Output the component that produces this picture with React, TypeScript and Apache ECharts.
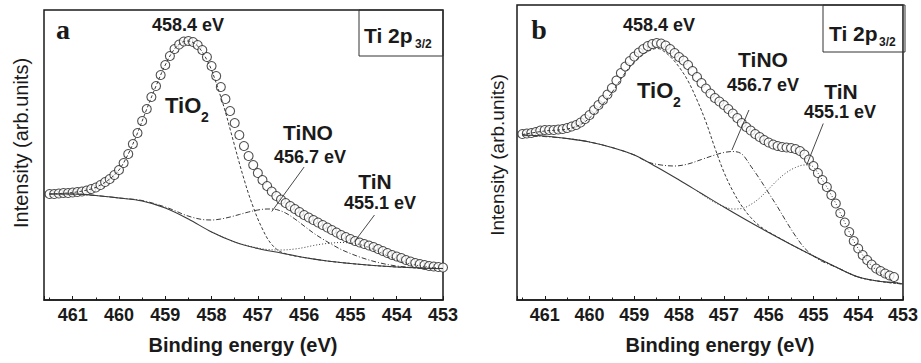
import React, { useEffect, useRef } from "react";
import * as echarts from "echarts";

// ---------- Panel a ----------
const ENERGY_A = [
  461.5, 461.4, 461.3, 461.2, 461.1, 461.0, 460.9, 460.8, 460.7, 460.6,
  460.5, 460.4, 460.3, 460.2, 460.1, 460.0, 459.9, 459.8, 459.7, 459.6,
  459.5, 459.4, 459.3, 459.2, 459.1, 459.0, 458.9, 458.8, 458.7, 458.6,
  458.5, 458.4, 458.3, 458.2, 458.1, 458.0, 457.9, 457.8, 457.7, 457.6,
  457.5, 457.4, 457.3, 457.2, 457.1, 457.0, 456.9, 456.8, 456.7, 456.6,
  456.5, 456.4, 456.3, 456.2, 456.1, 456.0, 455.9, 455.8, 455.7, 455.6,
  455.5, 455.4, 455.3, 455.2, 455.1, 455.0, 454.9, 454.8, 454.7, 454.6,
  454.5, 454.4, 454.3, 454.2, 454.1, 454.0, 453.9, 453.8, 453.7, 453.6,
  453.5, 453.4, 453.3, 453.2, 453.1, 453.0,
];
const INTENSITY_A = [
  106, 106, 106.5, 107, 107, 107.5, 108, 108.5, 109.5, 111,
  112.5, 115, 118, 121, 125, 130, 137, 146, 156, 167,
  179, 191, 203, 214, 225, 235, 244, 251, 255.5, 258.5,
  259, 258, 255, 250, 243, 234, 224, 213, 201, 189,
  177, 165, 154, 144, 135, 127, 120, 114, 108.5, 104,
  100.5, 97, 94, 91, 88, 85, 82.5, 80, 77.5, 75,
  72.5, 70, 67.5, 65, 63, 61, 59, 57.5, 56, 54.5,
  53, 51, 49, 47, 45, 43.5, 42, 40, 38.5, 37,
  36, 35, 34, 33.5, 33, 32.5,
];
const BACKGROUND_A = [
  [461.5, 106], [461.0, 106], [460.5, 104.5], [460.0, 102], [459.5, 99], [459.0, 92],
  [458.5, 81], [458.0, 68], [457.5, 58], [457.0, 51.5], [456.5, 47], [456.0, 42.5],
  [455.5, 39], [455.0, 36.5], [454.5, 34.5], [454.0, 33], [453.5, 32], [453.0, 31.5],
];
const TIO2_A = [
  [461.5, 106], [461.0, 107.5], [460.6, 111], [460.4, 115], [460.2, 121], [460.0, 130],
  [459.8, 146], [459.6, 167], [459.4, 191], [459.2, 214], [459.0, 235], [458.8, 251],
  [458.6, 258.5], [458.5, 259], [458.4, 257.5], [458.3, 254], [458.2, 248], [458.1, 240],
  [458.0, 230], [457.9, 217], [457.8, 203], [457.7, 188], [457.6, 171], [457.5, 154],
  [457.4, 137], [457.3, 121], [457.2, 106], [457.1, 93], [457.0, 81], [456.9, 71],
  [456.8, 62], [456.7, 55.5], [456.6, 51], [456.5, 48], [456.3, 45], [456.0, 42.5],
  [455.5, 39], [455.0, 36.5], [454.5, 34.5], [454.0, 33], [453.5, 32], [453.0, 31.5],
];
const TINO_A = [
  [461.5, 106], [461.0, 106], [460.5, 104.5], [460.0, 102], [459.5, 99.5], [459.0, 93],
  [458.8, 89.5], [458.6, 85.5], [458.4, 82.5], [458.2, 80.5], [458.0, 80], [457.8, 81],
  [457.6, 83], [457.4, 85.5], [457.2, 88], [457.0, 90], [456.8, 91], [456.7, 91],
  [456.6, 90.5], [456.4, 87], [456.2, 81], [456.0, 74], [455.8, 67], [455.6, 61],
  [455.4, 55.5], [455.2, 50.5], [455.0, 46.5], [454.8, 43], [454.6, 40], [454.4, 37.5],
  [454.2, 35.5], [454.0, 34], [453.5, 32], [453.0, 31.5],
];
const TIN_A = [
  [458.0, 68], [457.5, 58], [457.2, 54], [457.0, 52], [456.8, 50.5], [456.5, 50],
  [456.2, 51], [456.0, 52.5], [455.8, 54.5], [455.6, 56], [455.4, 57], [455.2, 57.5],
  [455.0, 57], [454.8, 55.5], [454.6, 52.5], [454.4, 48.5], [454.2, 44], [454.0, 40],
  [453.8, 37], [453.6, 35], [453.4, 33.5], [453.0, 31.5],
];
const LEADER_A_TINO = [[456.0, 133], [456.7, 88.5]];
const LEADER_A_TIN = [[454.48, 85], [454.91, 58.5]];

// ---------- Panel b ----------
const ENERGY_B = [
  461.5, 461.4, 461.3, 461.2, 461.1, 461.0, 460.9, 460.8, 460.7, 460.6,
  460.5, 460.4, 460.3, 460.2, 460.1, 460.0, 459.9, 459.8, 459.7, 459.6,
  459.5, 459.4, 459.3, 459.2, 459.1, 459.0, 458.9, 458.8, 458.7, 458.6,
  458.5, 458.4, 458.3, 458.2, 458.1, 458.0, 457.9, 457.8, 457.7, 457.6,
  457.5, 457.4, 457.3, 457.2, 457.1, 457.0, 456.9, 456.8, 456.7, 456.6,
  456.5, 456.4, 456.3, 456.2, 456.1, 456.0, 455.9, 455.8, 455.7, 455.6,
  455.5, 455.4, 455.3, 455.2, 455.1, 455.0, 454.9, 454.8, 454.7, 454.6,
  454.5, 454.4, 454.3, 454.2, 454.1, 454.0, 453.9, 453.8, 453.7, 453.6,
  453.5, 453.4, 453.3, 453.2,
];
const INTENSITY_B = [
  166, 166.5, 167, 168, 169.5, 170, 170, 170, 170.5, 171,
  172, 173.5, 175, 177.5, 181, 185, 190, 195, 200, 205.5,
  212, 219.5, 227, 233.5, 239, 243.5, 247.5, 251, 254, 256,
  257, 256.5, 254.5, 251, 247, 243, 239.5, 235, 229, 223,
  217, 211.5, 206.5, 202, 198.5, 195, 191, 186.5, 182, 177,
  173, 169.5, 166, 163, 160, 157.5, 155.5, 154, 153, 152.5,
  152, 151, 149, 145.5, 140.5, 134, 127, 120, 113, 105,
  96.5, 87, 77.5, 68, 59, 51.5, 45, 40, 35.5, 31.5,
  29, 26.5, 24.5, 23,
];
const BACKGROUND_B = [
  [461.5, 165], [461.0, 164], [460.5, 161.5], [460.0, 158], [459.5, 152.5], [459.0, 145],
  [458.5, 133], [458.0, 120], [457.5, 106.5], [457.0, 93], [456.5, 80], [456.0, 67.5],
  [455.5, 55.5], [455.0, 44], [454.5, 33], [454.0, 23], [453.5, 18.5], [453.2, 17.5], [453.0, 16],
];
const TIO2_B = [
  [461.5, 165.5], [461.0, 169], [460.5, 171], [460.2, 175.5], [460.0, 182], [459.8, 191],
  [459.6, 201.5], [459.4, 214], [459.2, 227.5], [459.0, 238], [458.8, 246], [458.6, 250.5],
  [458.5, 251.5], [458.4, 250.5], [458.2, 243.5], [458.0, 233], [457.8, 219], [457.6, 200],
  [457.4, 178], [457.2, 152], [457.0, 128], [456.8, 109], [456.6, 94], [456.4, 82.5],
  [456.2, 74], [456.0, 68], [455.8, 63], [455.5, 55.5], [455.0, 44], [454.5, 33],
  [454.0, 23], [453.5, 18.5], [453.0, 16],
];
const TINO_B = [
  [461.5, 165], [460.5, 161.5], [460.0, 158], [459.5, 152.5], [459.0, 145], [458.7, 138],
  [458.4, 135], [458.1, 134], [457.8, 136], [457.5, 140.5], [457.2, 145], [457.0, 147.5],
  [456.8, 148.5], [456.6, 146], [456.4, 134], [456.2, 121], [456.0, 107], [455.8, 93],
  [455.6, 78], [455.4, 64], [455.2, 52], [455.0, 44], [454.8, 38.5], [454.5, 33],
  [454.0, 23], [453.5, 18.5], [453.0, 16],
];
const TIN_B = [
  [457.6, 109], [457.4, 103], [457.2, 97.5], [457.0, 93.5], [456.8, 91], [456.6, 91.5],
  [456.4, 95.5], [456.2, 102], [456.0, 111], [455.8, 120], [455.6, 127.5], [455.4, 132.5],
  [455.2, 135], [455.1, 135], [455.0, 133], [454.9, 127], [454.8, 120], [454.7, 113],
  [454.6, 105], [454.5, 96.5], [454.4, 87], [454.3, 77.5], [454.2, 68], [454.1, 59],
  [454.0, 51.5], [453.8, 39], [453.6, 30], [453.4, 23], [453.2, 18.5], [453.0, 16],
];
const LEADER_B_TINO = [[456.44, 190], [456.82, 150]];
const LEADER_B_TIN = [[454.78, 176.5], [455.15, 135]];

const X_MIN = 453;
const X_MAX = 461.62;
const X_NAME = "Binding energy (eV)";
const Y_NAME = "Intensity (arb.units)";

const SANS = "'Liberation Sans', Arial, Helvetica, sans-serif";
const SERIF = "'Liberation Serif', 'Times New Roman', serif";
const INK = "#1a1a1a";

function zip(xs: number[], ys: number[]) {
  return xs.map((x, i) => [x, ys[i]]);
}

function xAxisFor(gridIndex: number) {
  return {
    type: "value",
    gridIndex,
    min: X_MIN,
    max: X_MAX,
    interval: 1,
    inverse: true,
    axisLine: { show: true, onZero: false, lineStyle: { color: INK, width: 1.5 } },
    axisTick: { show: true, inside: true, length: 4, lineStyle: { color: INK, width: 1 } },
    minorTick: { show: true, splitNumber: 2, length: 2.5, lineStyle: { color: INK, width: 1 } },
    splitLine: { show: false },
    minorSplitLine: { show: false },
    axisLabel: {
      show: true,
      margin: 6,
      color: INK,
      fontFamily: SANS,
      fontWeight: "bold",
      fontSize: 18,
      formatter: (v: number) => (Math.abs(v - Math.round(v)) < 1e-6 ? String(Math.round(v)) : ""),
    },
  };
}

function yAxisFor(gridIndex: number, max: number) {
  return { type: "value", gridIndex, min: 0, max, show: false };
}

function comp(name: string, data: number[][], idx: number, type: any, width = 1) {
  return {
    name,
    type: "line",
    xAxisIndex: idx,
    yAxisIndex: idx,
    data,
    smooth: 0.35,
    symbol: "none",
    z: 3,
    lineStyle: { color: "#3a3a3a", width, type },
  };
}

function scatter(name: string, data: number[][], idx: number) {
  return {
    name,
    type: "scatter",
    xAxisIndex: idx,
    yAxisIndex: idx,
    data,
    clip: false,
    symbol: "circle",
    symbolSize: 9,
    z: 2,
    itemStyle: { color: "#ffffff", borderColor: "#222", borderWidth: 1.1 },
  };
}

function leader(data: number[][], idx: number) {
  return {
    type: "line",
    xAxisIndex: idx,
    yAxisIndex: idx,
    data,
    symbol: "none",
    z: 4,
    lineStyle: { color: "#333", width: 0.9 },
  };
}

function txt(text: string, x: number, y: number, size: number, align = "center", font = SANS, weight = "bold") {
  return {
    type: "text",
    x,
    y,
    z: 10,
    style: {
      text,
      fill: INK,
      fontFamily: font,
      fontWeight: weight,
      fontSize: size,
      align,
      verticalAlign: "middle",
    },
  };
}

export default function App() {
  const ref = useRef<HTMLDivElement>(null);
  useEffect(() => {
    if (!ref.current) return;
    const chart = echarts.init(ref.current, null, { renderer: "svg" });
    const option: any = {
      animation: false,
      backgroundColor: "#ffffff",
      grid: [
        { left: 44, top: 10, width: 399, height: 290, show: true, borderColor: INK, borderWidth: 1.5, backgroundColor: "transparent" },
        { left: 517, top: 5, width: 388, height: 295, show: true, borderColor: INK, borderWidth: 1.5, backgroundColor: "transparent" },
      ],
      xAxis: [xAxisFor(0), xAxisFor(1)],
      yAxis: [yAxisFor(0, 290), yAxisFor(1, 295)],
      series: [
        scatter("Data a", zip(ENERGY_A, INTENSITY_A), 0),
        comp("Background a", BACKGROUND_A, 0, "solid", 1.1),
        comp("TiO2 a", TIO2_A, 0, [3, 2]),
        comp("TiNO a", TINO_A, 0, [5, 2, 1, 2]),
        comp("TiN a", TIN_A, 0, [1, 2]),
        leader(LEADER_A_TINO, 0),
        leader(LEADER_A_TIN, 0),
        scatter("Data b", zip(ENERGY_B, INTENSITY_B), 1),
        comp("Background b", BACKGROUND_B, 1, "solid", 1.1),
        comp("TiO2 b", TIO2_B, 1, [3, 2]),
        comp("TiNO b", TINO_B, 1, [5, 2, 1, 2]),
        comp("TiN b", TIN_B, 1, [1, 2]),
        leader(LEADER_B_TINO, 1),
        leader(LEADER_B_TIN, 1),
      ],
      graphic: [
        // panel a
        txt("a", 63, 29, 28, "center", SERIF),
        txt("458.4 eV", 188, 24.5, 18),
        txt("TiO", 165, 105, 22, "left"),
        txt("2", 201, 116.5, 14, "left"),
        txt("TiNO", 308, 132.5, 21),
        txt("456.7 eV", 310, 156.5, 18),
        txt("TiN", 375, 181.5, 21),
        txt("455.1 eV", 380, 203, 18),
        { type: "rect", z: 10, shape: { x: 359, y: 10, width: 84, height: 46 }, style: { fill: "none", stroke: "#333", lineWidth: 1 } },
        txt("Ti 2p", 364, 35, 21, "left"),
        txt("3/2", 415, 44, 12, "left"),
        txt(X_NAME, 243, 345, 20),
        { ...txt(Y_NAME, 21, 143, 20, "center", SANS, "normal"), rotation: Math.PI / 2 },
        // panel b
        txt("b", 539, 29, 28, "center", SERIF),
        txt("458.4 eV", 659, 24.5, 18),
        txt("TiO", 637, 90, 22, "left"),
        txt("2", 673, 101.5, 14, "left"),
        txt("TiNO", 763, 59, 21),
        txt("456.7 eV", 763, 85, 18),
        txt("TiN", 841, 91, 21),
        txt("455.1 eV", 840, 111.5, 18),
        { type: "rect", z: 10, shape: { x: 823, y: 5, width: 82, height: 47 }, style: { fill: "none", stroke: "#333", lineWidth: 1 } },
        txt("Ti 2p", 829, 33, 21, "left"),
        txt("3/2", 879, 42, 12, "left"),
        txt(X_NAME, 720, 345, 20),
        { ...txt(Y_NAME, 497, 155, 19, "center", SANS, "normal"), rotation: Math.PI / 2 },
      ],
    };
    chart.setOption(option);
    return () => chart.dispose();
  }, []);
  return (
    <div
      ref={ref}
      style={{ position: "absolute", left: 0, top: 0, width: 921, height: 363, background: "#fff" }}
    />
  );
}
